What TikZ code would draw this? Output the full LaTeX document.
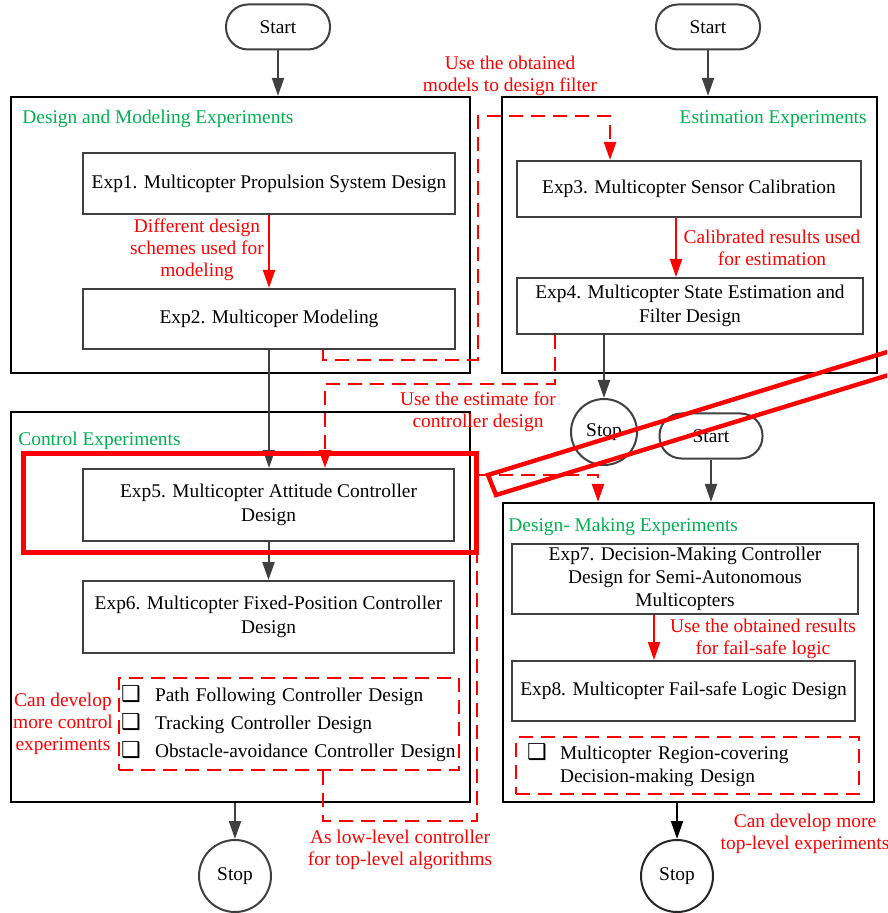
\documentclass[tikz,border=0pt]{standalone}
\usepackage{fontspec}
\setmainfont{Liberation Serif}
\newfontfamily\dejavu{DejaVu Sans}
\usepackage{xcolor}
\usepackage{tikz}
\usetikzlibrary{shapes, arrows.meta, positioning, calc}
\definecolor{boxgray}{HTML}{404040}
\definecolor{titlegreen}{HTML}{00B050}
\newcommand{\chkbox}{{\dejavu\fontsize{11}{11}\selectfont ❑}}

\begin{document}
\begin{tikzpicture}[x=0.5pt, y=-0.5pt,
        every node/.style={font=\fontsize{9.7}{12}\selectfont},
        terminal/.style={draw=boxgray, line width=1pt, rounded corners=11pt, minimum width=52pt, minimum height=22.5pt, inner sep=0pt},
        stopnode/.style={circle, draw=boxgray, line width=1pt, inner sep=0pt},
        group/.style={draw=black, line width=1.1pt, inner sep=0pt},
        grouptitle/.style={text=titlegreen, inner sep=0pt},
        expbox/.style={draw=boxgray, line width=1pt, align=center, inner sep=0pt},
        listbox/.style={draw=red, line width=1.2pt, dash pattern=on 7pt off 4pt, align=left},
        note/.style={text=red, align=center, font=\fontsize{9.7}{11}\selectfont},
        flow/.style={draw=boxgray, line width=1pt, -{Triangle[length=9pt,width=6pt]}},
        redflow/.style={draw=red, line width=1pt, -{Triangle[length=9pt,width=6pt]}},
        reflink/.style={draw=red, line width=1.2pt, dash pattern=on 7pt off 4pt, -{Triangle[length=9pt,width=6pt]}},
        highlight/.style={draw=red, line width=2.5pt},
    ]
    \useasboundingbox (0,0) rectangle (887,913);

    \node[terminal] (s1) at (278,27) {Start};
    \node[terminal] (s2) at (708,27) {Start};

    \node[group, minimum width=229.5pt, minimum height=138pt] (gA) at (240.5,235) {};
    \node[group, minimum width=187.5pt, minimum height=138pt] (gB) at (689.5,235) {};
    \node[group, minimum width=229.5pt, minimum height=195pt] (gC) at (240.5,607) {};
    \node[group, minimum width=185.5pt, minimum height=149.5pt] (gD) at (688.5,652.5) {};
    \node[grouptitle, anchor=west] (tA) at (22,119) {Design and Modeling Experiments};
    \node[grouptitle, anchor=east] (tB) at (867,119) {Estimation Experiments};
    \node[grouptitle, anchor=west] (tC) at (18,441) {Control Experiments};
    \node[grouptitle, anchor=west] (tD) at (508,527) {Design- Making Experiments};

    \node[expbox, minimum width=186pt, minimum height=30.5pt] (e1) at (269,183.5) {Exp1. Multicopter Propulsion System Design};
    \node[expbox, minimum width=186pt, minimum height=30pt] (e2) at (269,319) {Exp2. Multicoper Modeling};
    \node[expbox, minimum width=172pt, minimum height=28pt] (e3) at (689,189) {Exp3. Multicopter Sensor Calibration};
    \node[expbox, minimum width=173pt, minimum height=28pt] (e4) at (690,306) {Exp4. Multicopter State Estimation and\\Filter Design};
    \node[expbox, minimum width=185.5pt, minimum height=36pt] (e5) at (268.5,505) {Exp5. Multicopter Attitude Controller\\Design};
    \node[expbox, minimum width=185.5pt, minimum height=36pt] (e6) at (268.5,617) {Exp6. Multicopter Fixed-Position Controller\\Design};
    \node[expbox, minimum width=173pt, minimum height=35pt, font=\fontsize{9.7}{11.5}\selectfont] (e7) at (685,579) {Exp7. Decision-Making Controller\\Design for Semi-Autonomous\\Multicopters};
    \node[expbox, minimum width=171.5pt, minimum height=30pt] (e8) at (683.5,691) {Exp8. Multicopter Fail-safe Logic Design};

    \node[listbox, minimum width=170pt, minimum height=46pt, text width=168pt, inner xsep=1pt, font=\fontsize{9.7}{14}\selectfont] (l1) at (289,724) {\mbox{\makebox[17pt][l]{\chkbox}Path Following Controller Design}\\\mbox{\makebox[17pt][l]{\chkbox}Tracking Controller Design}\\\mbox{\makebox[17pt][l]{\chkbox}Obstacle-avoidance Controller Design}};
    \node[listbox, minimum width=171.5pt, minimum height=27.5pt, text width=160.5pt, inner xsep=5.5pt, font=\fontsize{9.7}{11.5}\selectfont] (l2) at (687.5,765.5) {\makebox[16.5pt][l]{\chkbox}Multicopter Region-covering\\\hspace*{16.5pt}Decision-making Design};

    \node[stopnode, minimum size=33pt] (p1) at (604,432) {Stop};
    \node[terminal, minimum width=51.5pt] (s3) at (711,436) {Start};
    \node[stopnode, minimum size=36pt] (p2) at (235,876) {Stop};
    \node[stopnode, minimum size=36pt, draw=black!85] (p3) at (677,876) {Stop};

    \draw[flow] (s1) -- (s1 |- gA.north);
    \draw[flow] (s2) -- (s2 |- gB.north);
    \draw[redflow] (e1) -- (e2);
    \draw[redflow] ([xshift=-6.5pt]e3.south) -- ([xshift=-6.5pt]e3.south |- e4.north);
    \draw[flow] (e2.south) -- (e2.south |- e5.north);
    \draw[flow] (e5) -- (e6);
    \draw[flow] (p1 |- e4.south) -- (p1);
    \draw[flow] (p2 |- gC.south) -- (p2);
    \draw[flow] (s3) -- (s3 |- gD.north);
    \draw[flow, draw=black] (p3 |- gD.south) -- (p3);
    \draw[redflow] ([xshift=-15.5pt]e7.south) -- ([xshift=-15.5pt]e7.south |- e8.north);

    \draw[reflink] ([xshift=27pt]e2.south) |- (478,360) -- (478,116) -| ([xshift=-39.5pt]e3.north);
    \draw[reflink] ([xshift=-67.5pt]e4.south) -- ++(0,49) -| ([xshift=28.25pt]e5.north);
    \draw[reflink] ([xshift=17pt]l1.south) -- ++(0,50) -| (477,475) -| ([xshift=-45.25pt]gD.north);

    \node[note] (n1) at (197,250) {Different design\\schemes used for\\modeling};
    \node[note] (n2) at (510,76) {Use the obtained\\models to design filter};
    \node[note] (n3) at (772,248) {Calibrated results used\\for estimation};
    \node[note] (n4) at (478,412) {Use the estimate for\\controller design};
    \node[note] (n5) at (63,724) {Can develop\\more control\\experiments};
    \node[note] (n6) at (763,639) {Use the obtained results\\for fail-safe logic};
    \node[note] (n7) at (400,850) {As low-level controller\\for top-level algorithms};
    \node[note] (n8) at (805,834) {Can develop more\\top-level experiments};

    \draw[highlight] (23,453) rectangle (476,552);
    \begin{scope}
        \clip (0,0) rectangle (887,913);
        \draw[highlight, line width=2.2pt] (488,475) -- (496,495) -- (905,370) -- (897,349) -- cycle;
    \end{scope}
\end{tikzpicture}
\end{document}
